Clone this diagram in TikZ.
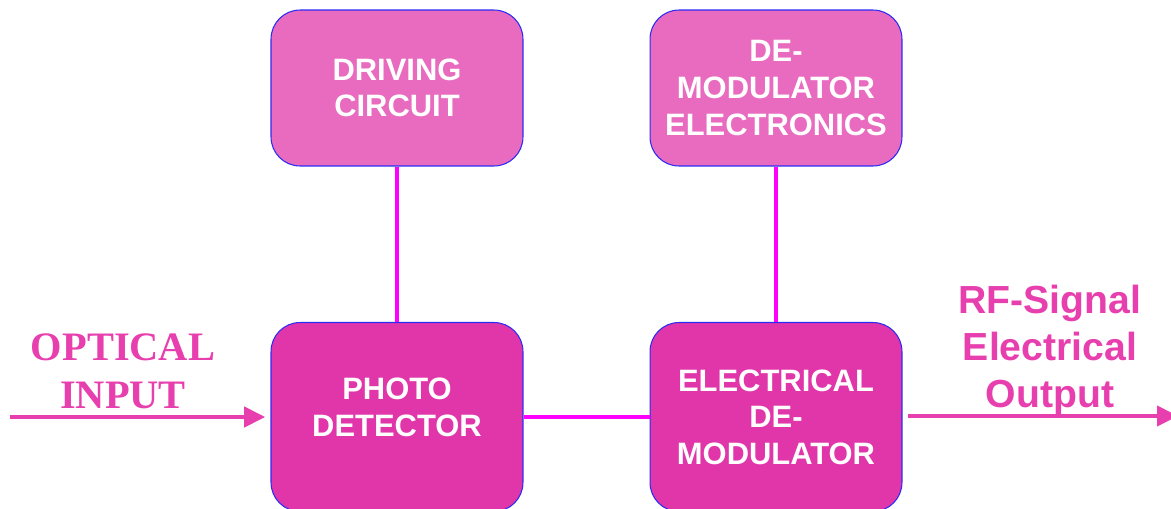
\documentclass[tikz,border=0pt]{standalone}
\usepackage{fontspec}
\setmainfont{Liberation Serif}
\setsansfont{Liberation Sans}
\usetikzlibrary{arrows.meta}

\definecolor{lightpink}{HTML}{E86BBF}
\definecolor{darkpink}{HTML}{E036AA}
\definecolor{edgeblue}{HTML}{2B2BF5}
\definecolor{wirepink}{HTML}{FF00FF}
\definecolor{arrowpink}{HTML}{E83FAE}

\tikzset{
  block/.style={draw=edgeblue, line width=0.6pt, rounded corners=0.58cm,
    minimum width=5.04cm, text=white, align=center,
    font=\sffamily\bfseries\fontsize{17.6}{20.8}\selectfont},
  upper/.style={block, fill=lightpink, minimum height=3.12cm},
  lower/.style={block, fill=darkpink, minimum height=3.78cm},
  wire/.style={wirepink, line width=2pt},
  signal/.style={arrowpink, line width=2.3pt,
    -{Triangle[length=0.42cm, width=0.4cm]}},
  sidetext/.style={text=arrowpink, align=center}
}

\begin{document}
\begin{tikzpicture}[x=0.02cm, y=-0.02cm]
  \clip (0,0) rectangle (1171,508);
  \node[upper] (drive) at (397,88) {DRIVING\\CIRCUIT};
  \node[upper] (demodel) at (776,88) {DE-\\MODULATOR\\ELECTRONICS};
  \node[lower, text depth=11.4pt] (photo) at (397,417) {PHOTO\\DETECTOR};
  \node[lower] (elecdemod) at (776,417) {ELECTRICAL\\DE-\\MODULATOR};

  \draw[wire] (drive) -- (photo);
  \draw[wire] (demodel) -- (elecdemod);
  \draw[wire] (photo) -- (elecdemod);

  \coordinate (in) at (10,417);
  \coordinate (out) at (1178,416);
  \draw[signal, shorten >=3pt] (in) -- (photo.west);
  \draw[signal] ([xshift=3pt]elecdemod.east |- out) -- (out);

  \node[sidetext, font=\rmfamily\bfseries\fontsize{23}{27.5}\selectfont]
    (optin) at (123,371) {OPTICAL\\INPUT};
  \node[sidetext, font=\sffamily\bfseries\fontsize{22.3}{26.7}\selectfont]
    (rfout) at (1050,350) {RF-Signal\\Electrical\\Output};
\end{tikzpicture}
\end{document}
